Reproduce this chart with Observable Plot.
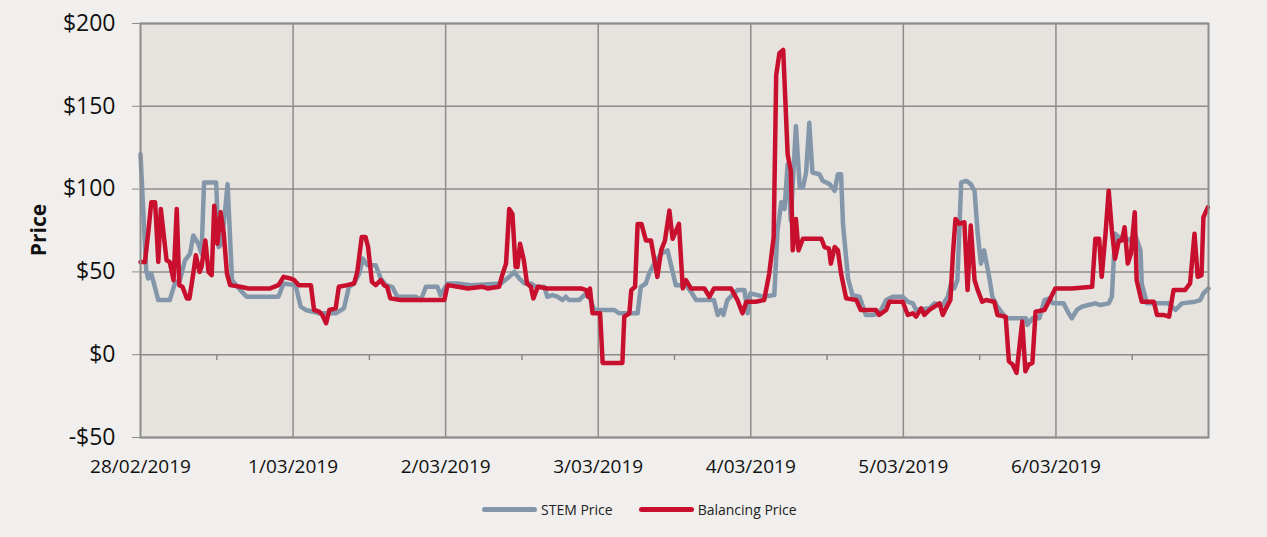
<!DOCTYPE html>
<html>
<head>
<meta charset="utf-8">
<script src="https://cdn.jsdelivr.net/npm/d3@7"></script>
<script src="https://cdn.jsdelivr.net/npm/@observablehq/plot@0.6"></script>
<style>
  html, body { margin: 0; padding: 0; background: #F0EFED; }
  body { width: 1267px; height: 537px; position: relative; overflow: hidden; font-family: "Open Sans", sans-serif; }
  #chart { position: absolute; left: 0; top: 0; }
  #ylabel { position: absolute; left: 38px; top: 230px; transform: translate(-50%, -50%) rotate(-90deg); font-weight: bold; font-size: 21px; color: #111; white-space: nowrap; }
  #legend { position: absolute; top: 500px; left: 482px; display: flex; align-items: center; font-size: 14px; color: #222; }
  .sw { width: 55px; height: 5px; border-radius: 3px; margin-right: 4px; }
</style>
</head>
<body>
<div id="chart"></div>
<div id="ylabel">Price</div>
<div id="legend"></div>
<script>
// hours since 28/02/2019 00:00
const stemHours = [0,0.9,1.2,1.7,2.8,4.6,5.4,6.2,7.0,7.8,8.3,9.1,9.6,10.0,11.9,12.3,12.8,13.7,14.4,15.7,16.7,21.7,22.5,24.4,25.2,26.0,28.1,30.7,32.0,32.8,33.6,34.4,35.0,35.7,37.0,37.8,38.6,39.6,40.4,43.3,44.1,44.9,46.7,47.2,48.3,49.9,52.0,56.7,58.0,58.8,59.6,60.4,61.4,62.2,63.5,64.0,64.8,65.6,66.4,66.9,67.4,69.0,69.8,70.6,71.4,74.5,75.3,78.2,78.7,79.5,80.0,80.8,81.9,82.9,83.4,84.2,85.8,86.6,87.4,90.2,90.8,91.3,91.7,92.3,93.1,93.9,95.0,95.5,95.9,97.1,97.9,99.7,100.2,100.8,101.3,101.8,102.3,103.1,103.7,104.2,104.7,105.2,105.7,106.8,107.3,108.4,109.2,109.7,110.2,110.5,111.3,112.0,113.1,114.1,115.2,116.2,117.3,118.3,119.9,120.7,121.5,122.0,124.1,124.9,126.2,127.0,127.5,128.0,128.5,129.1,129.9,130.6,131.2,131.7,132.2,132.7,133.5,134.0,134.8,135.6,136.1,139.3,139.5,140.3,141.4,142.2,143.0,143.5,145.2,146.0,146.5,147.3,148.1,149.1,150.2,151.0,152.3,152.8,153.3,153.9,154.6,155.4,156.5,157.3,157.5,158.3,161.7,162.8,163.8,165.9,166.7,167.2,168.0];
const stemPrices = [121,51,46,49,33,33,43,45,57,61,72,67,61,104,104,65,67,103,45,39,35,35,43,42,29,27,25,25,28,41,43,49,58,54,54,46,42,41,35,35,33,41,41,36,43,43,42,43,47,50,46,43,43,41,41,35,36,35,33,35,33,33,36,35,27,27,25,25,41,43,49,55,61,63,55,42,42,38,33,33,24,27,24,33,36,39,39,25,37,36,35,36,75,92,88,115,81,138,101,101,110,140,110,109,105,103,99,109,109,79,46,36,35,24,24,25,33,35,35,32,31,27,28,31,30,35,43,40,45,104,105,103,99,73,55,63,47,35,29,25,22,22,18,22,22,33,34,31,31,25,22,27,29,30,31,30,31,35,73,71,71,69,72,63,43,31,31,27,31,32,33,37,40];

const balHours = [0,0.7,1.2,1.7,2.3,2.8,3.2,4.1,4.6,5.2,5.7,6.1,6.6,7.3,7.7,8.3,8.7,9.3,9.6,10.2,10.7,11.2,11.6,12.1,12.6,13.1,13.6,14.1,15.7,17.0,20.4,21.7,22.5,23.6,24.2,24.9,26.8,27.3,28.1,28.6,29.2,29.7,30.7,31.2,32.5,33.6,34.1,34.8,35.4,35.8,36.4,37.0,37.8,38.3,38.8,39.3,40.9,43.8,45.9,47.8,48.3,49.9,51.5,53.8,54.6,56.4,56.9,57.5,58.0,58.5,59.0,59.3,59.7,60.3,60.8,61.4,61.8,62.5,64.0,69.3,70.1,70.4,70.7,71.1,72.3,72.7,75.8,76.1,76.9,77.2,77.8,78.2,78.8,79.5,80.3,80.8,81.3,81.9,82.5,83.2,83.7,84.7,85.3,85.8,86.6,88.7,89.5,90.2,92.9,93.9,94.7,95.3,96.8,98.1,98.9,99.6,100.0,100.5,101.1,101.8,102.3,102.6,103.1,103.5,104.2,107.1,107.6,108.3,108.6,109.2,109.7,110.2,111.0,112.6,113.3,115.7,116.2,117.3,117.8,119.9,120.7,121.5,122.0,122.8,123.3,124.1,124.9,125.7,126.2,126.7,127.4,127.8,128.2,128.8,129.6,130.1,130.6,131.2,131.7,132.4,133.0,134.3,134.8,136.1,136.6,137.2,137.8,138.7,139.2,139.7,140.3,140.8,142.2,143.0,143.9,146.5,149.7,150.2,150.8,151.2,151.8,152.3,152.8,153.3,153.9,154.4,154.8,155.3,155.8,156.4,156.7,157.5,159.4,159.9,160.9,161.8,162.5,164.3,165.1,165.8,166.3,166.9,167.2,167.9];
const balPrices = [56,56,73,92,92,56,88,57,56,45,88,42,41,34,34,49,60,50,53,69,50,48,90,67,86,73,49,42,41,40,40,42,47,46,45,42,42,27,26,24,19,27,28,41,42,43,50,71,71,65,44,42,45,42,41,34,33,33,33,33,42,41,40,41,40,41,48,55,88,85,53,53,67,57,43,41,34,41,40,40,39,35,40,25,25,-5,-5,23,25,39,41,79,79,69,69,58,47,63,69,87,70,79,40,45,40,40,35,40,40,33,25,32,32,33,49,71,169,182,184,121,111,63,82,63,70,70,65,64,55,65,63,49,34,33,27,27,24,27,32,32,24,25,23,28,24,27,29,31,24,28,33,61,82,79,80,39,78,45,39,32,33,32,24,23,-4,-6,-11,20,-10,-6,-5,26,27,33,40,40,41,70,70,47,73,99,75,58,69,69,77,55,61,86,45,32,32,24,24,23,39,39,43,73,47,48,83,89];

const dayTicks = [0, 24, 48, 72, 96, 120, 144];
const dayLabels = ["28/02/2019", "1/03/2019", "2/03/2019", "3/03/2019", "4/03/2019", "5/03/2019", "6/03/2019"];
const gridDays = [24, 48, 72, 96, 120, 144];
const middayTicks = [12, 36, 60, 84, 108, 132, 156];
const yTicks = [-50, 0, 50, 100, 150, 200];
const seriesNames = ["STEM Price", "Balancing Price"];
const seriesColors = ["#8497AA", "#C8102E"];

const stem = stemHours.map((h, i) => ({h, p: stemPrices[i]}));
const bal = balHours.map((h, i) => ({h, p: balPrices[i]}));
const labelOf = new Map(dayTicks.map((t, i) => [t, dayLabels[i]]));
const fmt = d => (d < 0 ? "-$" + Math.abs(d) : "$" + d);

const chart = Plot.plot({
  width: 1267,
  height: 482,
  marginLeft: 140,
  marginRight: 59,
  marginTop: 23,
  marginBottom: 45,
  style: {background: "transparent", fontFamily: "Open Sans, sans-serif"},
  x: {type: "linear", domain: [0, 168]},
  y: {domain: [-50, 200]},
  marks: [
    Plot.frame({fill: "#E6E3DF", stroke: null}),
    Plot.gridY(yTicks, {stroke: "#8C8C8C", strokeOpacity: 1, strokeWidth: 1.5}),
    Plot.gridX(gridDays, {stroke: "#8C8C8C", strokeOpacity: 1, strokeWidth: 1.5}),
    Plot.ruleX(middayTicks, {x: d => d, y1: 0, y2: -3.5, stroke: "#8C8C8C", strokeWidth: 1.5}),
    Plot.axisY(yTicks, {tickFormat: fmt, tickSize: 8, tickPadding: 17, fontSize: 23, stroke: "#8C8C8C", color: "#111", label: null}),
    Plot.axisX(dayTicks, {tickFormat: d => labelOf.get(d), tickSize: 0, tickPadding: 22, fontSize: 19, color: "#111", label: null}),
    Plot.line(stem, {x: "h", y: "p", stroke: seriesColors[0], strokeWidth: 4.5, strokeLinejoin: "round", strokeLinecap: "round"}),
    Plot.line(bal, {x: "h", y: "p", stroke: seriesColors[1], strokeWidth: 4.5, strokeLinejoin: "round", strokeLinecap: "round"}),
    Plot.frame({stroke: "#8C8C8C", strokeWidth: 2})
  ]
});
document.getElementById("chart").appendChild(chart);

const legend = document.getElementById("legend");
seriesNames.forEach((name, i) => {
  const item = document.createElement("div");
  item.style.display = "flex";
  item.style.alignItems = "center";
  item.style.marginRight = i === 0 ? "26px" : "0";
  const sw = document.createElement("div");
  sw.className = "sw";
  sw.style.background = seriesColors[i];
  const tx = document.createElement("span");
  tx.textContent = name;
  item.appendChild(sw);
  item.appendChild(tx);
  legend.appendChild(item);
});
</script>
</body>
</html>
